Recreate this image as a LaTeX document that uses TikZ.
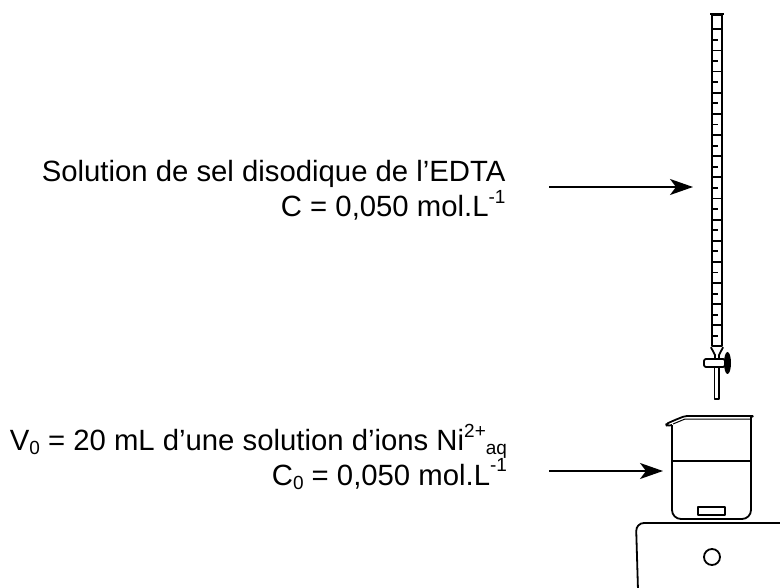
\documentclass[tikz,border=0pt]{standalone}
\usepackage{fontspec}
\setmainfont{Liberation Sans}
\usetikzlibrary{arrows.meta}
\newcommand{\hautbas}[2]{\raisebox{0.46em}{\fontsize{19}{19}\selectfont #1}\raisebox{-0.13em}{\fontsize{19}{19}\selectfont #2}}
\tikzset{
  trait/.style={line width=1.8pt,line join=round},
  etiquette/.style={anchor=east,align=right,inner sep=0pt,outer sep=0pt,font=\fontsize{29.3}{34.7}\selectfont},
  fleche/.style={line width=1.8pt,-{Stealth[length=23pt,width=16pt,inset=6pt]}},
}

\begin{document}
\begin{tikzpicture}[x=1pt,y=-1pt]
  \useasboundingbox (0,0) rectangle (780,588);
  \node[etiquette] (sel) at (505.5,190.5) {Solution de sel disodique de l’EDTA\\C = 0,050 mol.L\hautbas{-1}{}};
  \node[etiquette] (nickel) at (507,456.5) {V\hautbas{}{0} = 20 mL d’une solution d’ions Ni\hautbas{2+}{aq}\\C\hautbas{}{0} = 0,050 mol.L\hautbas{-1}{}\hspace{2pt}};
  % burette
  \node[draw,trait,line width=2.2pt,minimum width=10pt,minimum height=331pt,inner sep=0pt,anchor=north] (tube) at (717,14) {};
  \draw[line width=2.8pt] (710,14) -- (724,14);
  \foreach \n in {0,...,14} {
    \draw[line width=1.8pt] (712,29.3+21.15*\n) -- (722,29.3+21.15*\n);
    \draw[line width=1.8pt] (712,39.9+21.15*\n) -- (717.5,39.9+21.15*\n);
  }
  \draw[trait] (tube.south west) -- (715,355) -- (715,359);
  \draw[trait] (tube.south east) -- (719,355) -- (719,359);
  \draw[trait,fill=white,rounded corners=2pt] (704,359) rectangle (725,367);
  \fill (727.5,363) ellipse (3.5pt and 11pt);
  \draw[trait] (714.5,367) -- (714.5,399) -- (719,399) -- (719,367);
  % becher
  \draw[trait,rounded corners=9pt] (672,425) -- (672,519) -- (751,519) -- (751,417);
  \draw[trait,rounded corners=2pt] (751,417) -- (754,416) -- (685,416) -- (675,420) -- (666,424) -- (667,426) -- (672,425);
  \draw[trait,line width=1pt] (673,424) -- (685,419) -- (750,419);
  \draw[trait] (672,461) -- (751,461);
  \draw[trait] (698,507) rectangle (725,515);
  % agitateur
  \draw[trait,rounded corners=8pt] (638,590) -- (636,523) -- (790,523);
  \node[draw,trait,circle,minimum size=16pt,inner sep=0pt] (bouton) at (712,557) {};
  % fleches
  \coordinate (departsel) at (549,187);
  \coordinate (arriveesel) at (693,187);
  \coordinate (departnickel) at (549,471);
  \coordinate (arriveenickel) at (663,471);
  \draw[fleche] (departsel) -- (arriveesel);
  \draw[fleche] (departnickel) -- (arriveenickel);
\end{tikzpicture}
\end{document}
